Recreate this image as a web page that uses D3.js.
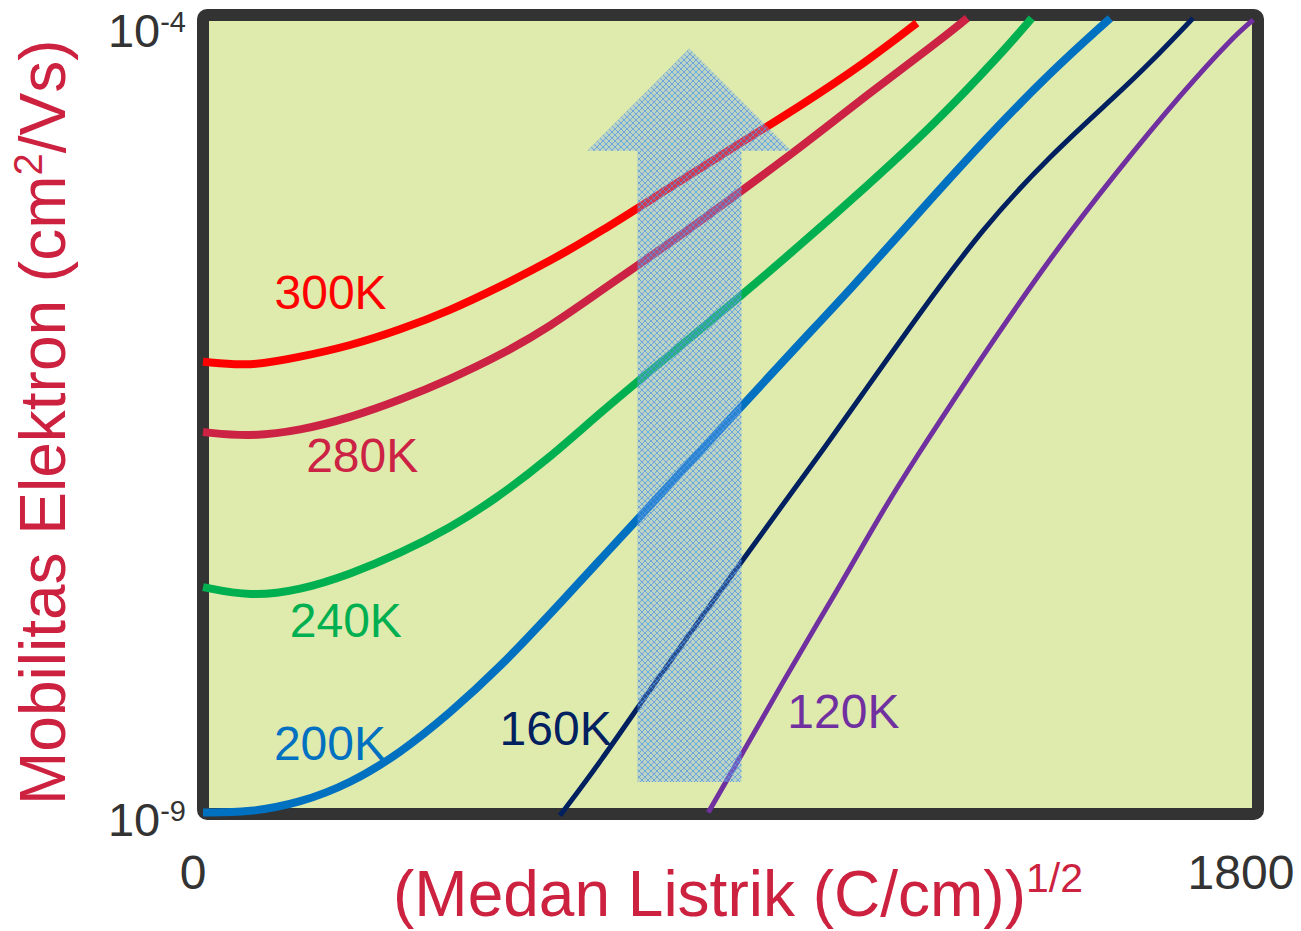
<html><head><meta charset="utf-8"><title>Mobilitas Elektron</title>
<style>
body { margin: 0; background: #fff; font-family: Arial, "Liberation Sans", sans-serif; }
</style>
<script src="https://d3js.org/d3.v7.min.js"></script>
</head>
<body>
<div id="chart"></div>
<script>
// values are [field^(1/2), log10(mobility)]
const temps = ["300K", "280K", "240K", "200K", "160K", "120K"];
const colors = ["#ff0000", "#cc2244", "#00b050", "#0070c0", "#002060", "#7030a0"];
const widths = [8, 8, 8, 8, 5, 5];

const curve300 = [[0,-6.17],[80,-6.20],[166,-6.14],[251,-6.07],[336,-5.97],[421,-5.85],[507,-5.70],[592,-5.54],[677,-5.36],[792,-5.09],[904,-4.83],[1019,-4.57],[1133,-4.29],[1218,-4.05]];
const curve280 = [[0,-6.61],[80,-6.64],[166,-6.60],[251,-6.52],[336,-6.41],[421,-6.28],[507,-6.13],[592,-5.95],[677,-5.73],[792,-5.44],[904,-5.14],[1019,-4.83],[1133,-4.50],[1246,-4.19],[1304,-4.02]];
const curve240 = [[0,-7.58],[80,-7.64],[166,-7.60],[251,-7.50],[336,-7.37],[421,-7.21],[495,-7.04],[592,-6.77],[677,-6.49],[792,-6.14],[904,-5.80],[1019,-5.44],[1133,-5.07],[1246,-4.69],[1360,-4.25],[1414,-4.02]];
const curve200 = [[0,-8.99],[80,-8.99],[166,-8.93],[251,-8.81],[336,-8.62],[421,-8.37],[507,-8.08],[592,-7.75],[677,-7.41],[758,-7.09],[911,-6.48],[1019,-6.05],[1104,-5.72],[1218,-5.25],[1331,-4.79],[1445,-4.36],[1548,-4.02]];
const curve160 = [[609,-9.01],[677,-8.68],[763,-8.22],[848,-7.78],[921,-7.41],[990,-7.06],[1058,-6.72],[1118,-6.41],[1218,-5.89],[1331,-5.33],[1445,-4.88],[1559,-4.50],[1616,-4.30],[1689,-4.02]];
const curve120 = [[862,-8.99],[933,-8.54],[990,-8.17],[1048,-7.81],[1104,-7.46],[1160,-7.10],[1218,-6.76],[1286,-6.38],[1331,-6.13],[1445,-5.52],[1559,-4.98],[1672,-4.48],[1757,-4.14],[1792,-4.03]];
const curves = [curve300, curve280, curve240, curve200, curve160, curve120];

// label anchors (start of text, baseline)
const labelPos = [[122,-5.84],[176,-6.86],[148,-7.89],[121,-8.66],[506,-8.57],[997,-8.46]];

const xTicks = [0, 1800];
const yTicks = [-9, -4];

// the upward arrow, in data units
const arrowX = 830;
const arrowFrom = -8.8, arrowNeck = -4.85, arrowTip = -4.21;

const W = 1301, H = 931;
const mLeft = 203, mRight = 1258, mTop = 15, mBottom = 814;

const x = d3.scaleLinear().domain([0, 1800]).range([mLeft, mRight]);
const y = d3.scaleLinear().domain([-9, -4]).range([mBottom, mTop]);

const svg = d3.select("#chart").append("svg")
    .attr("width", W)
    .attr("height", H);

const defs = svg.append("defs");
const pat = defs.append("pattern")
    .attr("id", "hatch")
    .attr("width", 6)
    .attr("height", 6)
    .attr("patternUnits", "userSpaceOnUse");
pat.append("rect").attr("width", 6).attr("height", 6).attr("fill", "rgba(120,170,235,0.35)");
pat.append("path")
    .attr("d", "M0,0L6,6M6,0L0,6")
    .attr("stroke", "#4f94e6")
    .attr("stroke-width", 1)
    .attr("opacity", 0.7);

// plot frame
svg.append("rect")
    .attr("x", mLeft)
    .attr("y", mTop)
    .attr("width", mRight - mLeft)
    .attr("height", mBottom - mTop)
    .attr("rx", 4)
    .attr("fill", "#dfebad")
    .attr("stroke", "#333333")
    .attr("stroke-width", 12);

// basis smooths out small reading errors in the points
const line = d3.line()
    .x(d => x(d[0]))
    .y(d => y(d[1]))
    .curve(d3.curveBasis);

curves.forEach((c, i) => {
    svg.append("path")
        .attr("d", line(c))
        .attr("fill", "none")
        .attr("stroke", colors[i])
        .attr("stroke-width", widths[i]);
});

// arrow
const shaftHalf = 52, headHalf = 102;
const ax = x(arrowX);
const arrowPts = [
    [ax - shaftHalf, y(arrowFrom)],
    [ax - shaftHalf, y(arrowNeck)],
    [ax - headHalf, y(arrowNeck)],
    [ax, y(arrowTip)],
    [ax + headHalf, y(arrowNeck)],
    [ax + shaftHalf, y(arrowNeck)],
    [ax + shaftHalf, y(arrowFrom)]
];
svg.append("path")
    .attr("d", "M" + arrowPts.map(p => p.join(",")).join("L") + "Z")
    .attr("fill", "url(#hatch)");

// curve labels
temps.forEach((t, i) => {
    svg.append("text")
        .attr("x", x(labelPos[i][0]))
        .attr("y", y(labelPos[i][1]))
        .attr("fill", colors[i])
        .attr("font-size", 48)
        .text(t);
});

// y tick labels
yTicks.forEach(v => {
    const t = svg.append("text")
        .attr("x", 186)
        .attr("y", y(v) + (v === -4 ? 32 : 22))
        .attr("text-anchor", "end")
        .attr("fill", "#333333")
        .attr("font-size", 47);
    t.append("tspan").text("10");
    t.append("tspan")
        .attr("dy", -15)
        .attr("font-size", 29)
        .text(v);
});

// x tick labels
xTicks.forEach(v => {
    svg.append("text")
        .attr("x", x(v) + (v === 0 ? -10 : -17))
        .attr("y", 889)
        .attr("text-anchor", "middle")
        .attr("fill", "#333333")
        .attr("font-size", 48)
        .text(v);
});

// axis titles
const xt = svg.append("text")
    .attr("x", 393)
    .attr("y", 916)
    .attr("fill", "#cc2240")
    .attr("font-size", 64);
xt.append("tspan").text("(Medan Listrik (C/cm))");
xt.append("tspan").attr("dy", -24).attr("font-size", 41).text("1/2");

const yt = svg.append("text")
    .attr("transform", "translate(65,805) rotate(-90)")
    .attr("fill", "#cc2240")
    .attr("font-size", 64);
yt.append("tspan").text("Mobilitas Elektron (cm");
yt.append("tspan").attr("dy", -23).attr("font-size", 40).text("2");
yt.append("tspan").attr("dy", 23).text("/Vs)");
</script>
</body></html>
